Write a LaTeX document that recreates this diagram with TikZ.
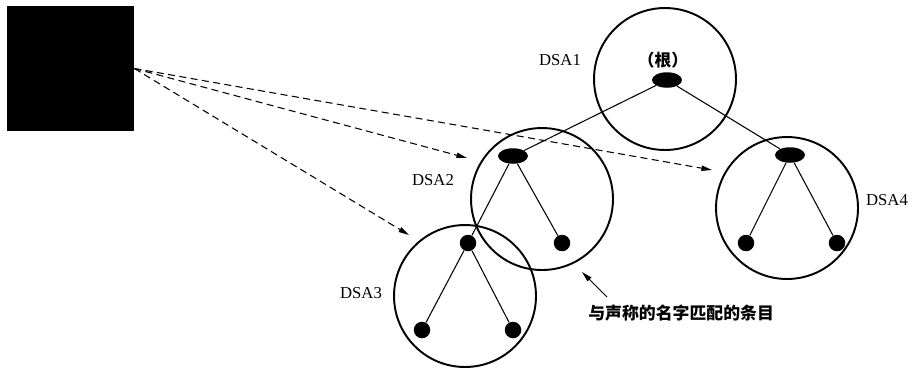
\documentclass[tikz,border=0pt]{standalone}
\usepackage{fontspec}
\setmainfont{Liberation Serif}
\newfontfamily\cjk{Noto Sans CJK SC}
\usetikzlibrary{arrows.meta, shapes.geometric}

\begin{document}
\begin{tikzpicture}[
        x=0.02cm, y=-0.02cm,
        dsa/.style={circle, draw, line width=1.1pt, minimum size=2.84cm, inner sep=0pt},
        hub/.style={ellipse, fill=black, minimum width=0.6cm, minimum height=0.31cm, inner sep=0pt},
        leaf/.style={circle, fill=black, minimum size=0.33cm, inner sep=0pt},
        link/.style={line width=0.6pt},
        query/.style={dash pattern=on 4pt off 2.5pt, line width=0.6pt, -{Triangle[length=6pt, width=3pt]}},
        tag/.style={font=\fontsize{9.5}{11}\selectfont}
    ]
        \useasboundingbox (0,0) rectangle (912,370);

        % User box
        \node[fill=black, minimum width=2.54cm, minimum height=2.5cm, inner sep=0pt] (user) at (70.5, 68.5) {};

        % DSA circles
        \node[dsa] (dsa1) at (665, 79) {};
        \node[dsa] (dsa2) at (542, 199) {};
        \node[dsa] (dsa3) at (465, 296) {};
        \node[dsa] (dsa4) at (787, 208) {};

        % Directory entries
        \node[hub] (root) at (667, 80) {};
        \node[hub] (e2) at (513, 156) {};
        \node[hub] (e4) at (790, 155) {};
        \node[leaf] (e3) at (468, 243) {};
        \node[leaf] (e2r) at (562, 243) {};
        \node[leaf] (e3l) at (422, 330) {};
        \node[leaf] (e3r) at (513, 330) {};
        \node[leaf] (e4l) at (746, 243) {};
        \node[leaf] (e4r) at (837, 243) {};

        % Tree edges
        \draw[link] (root) -- (e2);
        \draw[link] (root) -- (e4);
        \draw[link] (e2) -- (e3);
        \draw[link] (e2) -- (e2r);
        \draw[link] (e3) -- (e3l);
        \draw[link] (e3) -- (e3r);
        \draw[link] (e4) -- (e4l);
        \draw[link] (e4) -- (e4r);

        % Queries
        \coordinate (q2) at (467, 158);
        \coordinate (q3) at (409, 235);
        \coordinate (q4) at (712, 170);
        \draw[query] (user.east) -- (q2);
        \draw[query] (user.east) -- (q3);
        \draw[query] (user.east) -- (q4);

        % Labels
        \node[tag] (l1) at (560, 60) {DSA1};
        \node[tag] (l2) at (433, 180) {DSA2};
        \node[tag] (l3) at (361, 293) {DSA3};
        \node[tag] (l4) at (887, 200) {DSA4};
        \node[tag, font=\cjk\bfseries\fontsize{9.5}{11}\selectfont] (rootlbl) at (663, 60) {（根）};
        \node[font=\cjk\bfseries\fontsize{9.6}{11}\selectfont, anchor=west, inner sep=0pt] (match) at (588, 313) {与声称的名字匹配的条目};

        % Annotation
        \coordinate (mtail) at (607, 297);
        \coordinate (mtip) at (582, 272);
        \draw[link, -{Triangle[length=6pt, width=3pt]}] (mtail) -- (mtip);

    \end{tikzpicture}
\end{document}
